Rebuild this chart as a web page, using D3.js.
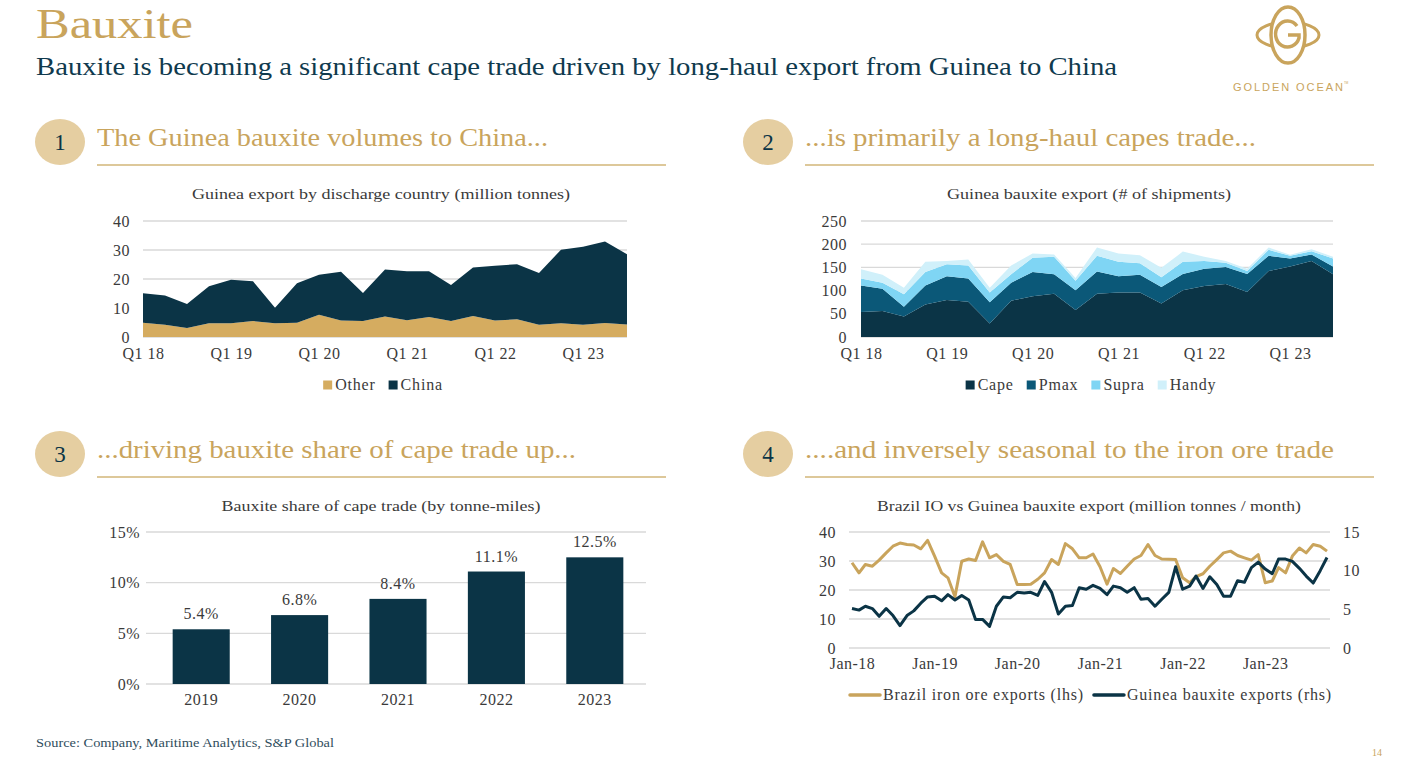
<!DOCTYPE html>
<html>
<head>
<meta charset="utf-8">
<script src="https://cdn.jsdelivr.net/npm/d3@7"></script>
<style>
  body { margin: 0; background: #ffffff; }
  svg text { font-family: "Liberation Serif", "DejaVu Serif", serif; }
</style>
</head>
<body>
<div id="slide"></div>
<script>
// ---- data ----
var quarters = ["Q1 18", "Q2 18", "Q3 18", "Q4 18", "Q1 19", "Q2 19", "Q3 19", "Q4 19",
    "Q1 20", "Q2 20", "Q3 20", "Q4 20", "Q1 21", "Q2 21", "Q3 21", "Q4 21",
    "Q1 22", "Q2 22", "Q3 22", "Q4 22", "Q1 23", "Q2 23", "Q3 23"];
var quarterTicks = ["Q1 18", "Q1 19", "Q1 20", "Q1 21", "Q1 22", "Q1 23"];

// panel 1 : million tonnes
var otherMt = [4.9, 4.2, 3.1, 4.7, 4.7, 5.5, 4.7, 4.9, 7.7, 5.7, 5.5, 7.1,
    5.8, 6.9, 5.5, 7.2, 5.7, 6.1, 4.2, 4.7, 4.2, 4.8, 4.3];
var chinaMt = [10.2, 10.1, 8.3, 12.8, 15.0, 13.7, 5.4, 13.6, 13.8, 16.8, 9.7, 16.2,
    16.9, 15.8, 12.4, 16.8, 18.9, 19.0, 17.9, 25.4, 26.9, 28.1, 24.2];

// panel 2 : number of shipments
var capeShips = [54, 56, 44, 70, 80, 76, 29, 78, 88, 93, 58, 93, 96, 96, 72, 101, 110, 114, 97, 142, 152, 164, 135];
var pmaxShips = [57, 48, 21, 41, 51, 50, 46, 39, 52, 42, 43, 48, 35, 38, 36, 35, 37, 37, 39, 33, 17, 14, 17];
var supraShips = [15, 13, 27, 29, 26, 28, 21, 18, 31, 38, 20, 34, 31, 25, 21, 26, 17, 9, 6, 13, 6, 7, 17];
var handyShips = [20, 17, 14, 22, 7, 13, 10, 19, 9, 5, 6, 18, 18, 17, 20, 22, 9, 4, 5, 5, 2, 4, 4];

// panel 3 : share of cape tonne-miles (%)
var shareYears = ["2019", "2020", "2021", "2022", "2023"];
var shareValues = [5.4, 6.8, 8.4, 11.1, 12.5];

// panel 4 : monthly, Jan-18 .. Oct-23
var brazilIO = [29.4, 25.9, 28.8, 28.2, 30.3, 32.8, 35.1, 36.2, 35.7, 35.5,
    34.2, 37.1, 31.7, 25.9, 24.2, 17.7, 29.9, 30.7, 30.2, 36.6,
    31.1, 32.2, 29.9, 28.8, 21.9, 21.9, 22.0, 23.7, 25.9, 30.5,
    28.8, 36.0, 34.2, 31.1, 31.1, 32.4, 28.0, 22.0, 27.4, 25.7,
    28.2, 30.7, 31.9, 35.7, 31.9, 30.7, 30.6, 30.5, 24.2, 22.5,
    24.6, 25.6, 28.2, 30.5, 32.8, 33.4, 31.9, 31.1, 30.3, 32.2,
    22.5, 23.1, 27.7, 25.9, 31.7, 34.5, 32.8, 35.7, 35.1, 33.4];
var guineaBx = [5.1, 4.9, 5.4, 5.1, 4.1, 5.1, 4.2, 2.9, 4.2, 4.8,
    5.8, 6.6, 6.7, 6.1, 6.9, 6.2, 6.8, 6.2, 3.7, 3.7,
    2.8, 5.4, 6.6, 6.5, 7.2, 7.1, 7.2, 6.8, 8.6, 7.2,
    4.4, 5.4, 5.5, 7.8, 7.6, 8.1, 7.7, 6.9, 8.0, 7.8,
    7.2, 7.8, 6.3, 6.4, 5.4, 6.3, 7.2, 10.5, 7.6, 8.0,
    9.3, 7.7, 9.2, 8.2, 6.7, 6.7, 8.7, 8.5, 10.4, 11.1,
    10.2, 9.6, 11.5, 11.5, 11.2, 10.3, 9.3, 8.4, 10.0, 11.7];
var months = d3.timeMonth.range(new Date(2018, 0, 1), new Date(2023, 10, 1));

// ---- colours ----
var GOLD = "#c9a45c";
var NAVY = "#0b3446";
var TEXT = "#3a3a3a";
var GRID = "#d9d9d9";

var width = 1423;
var height = 764;

var svg = d3.select("#slide")
    .append("svg")
    .attr("width", width)
    .attr("height", height);

// ---- slide heading ----
svg.append("text")
    .text("Bauxite")
    .attr("x", 36)
    .attr("y", 38)
    .attr("textLength", 157)
    .attr("lengthAdjust", "spacingAndGlyphs")
    .style("font-size", "42px")
    .style("fill", GOLD);

svg.append("text")
    .text("Bauxite is becoming a significant cape trade driven by long-haul export from Guinea to China")
    .attr("x", 36)
    .attr("y", 75)
    .attr("textLength", 1081)
    .attr("lengthAdjust", "spacingAndGlyphs")
    .style("font-size", "26px")
    .style("fill", "#0f3a4e");

// logo
var logo = svg.append("g").attr("transform", "translate(1288,35)");
logo.append("ellipse")
    .attr("rx", 31).attr("ry", 13)
    .attr("fill", "none").attr("stroke", GOLD).attr("stroke-width", 3);
logo.append("ellipse")
    .attr("rx", 17).attr("ry", 28)
    .attr("fill", "#fff").attr("stroke", GOLD).attr("stroke-width", 3.5);
logo.append("path")
    .attr("d", "M 9 -9 A 12 13 0 1 0 11 3 L 11 0 L 0 0")
    .attr("fill", "none").attr("stroke", GOLD).attr("stroke-width", 3.5);
svg.append("text")
    .text("GOLDEN OCEAN")
    .attr("x", 1233)
    .attr("y", 91)
    .attr("textLength", 110)
    .attr("lengthAdjust", "spacing")
    .style("font-family", "'Liberation Sans', sans-serif")
    .style("font-size", "11px")
    .style("fill", GOLD);
svg.append("text")
    .text("TM")
    .attr("x", 1344)
    .attr("y", 84)
    .style("font-family", "'Liberation Sans', sans-serif")
    .style("font-size", "3px")
    .style("fill", GOLD);

// ---- panel headings ----
function Header(x, y, num, label, len) {
    svg.append("ellipse")
        .attr("cx", x - 37)
        .attr("cy", y - 4)
        .attr("rx", 25)
        .attr("ry", 23)
        .attr("fill", "#e5cea1");
    svg.append("text")
        .text(num)
        .attr("x", x - 37)
        .attr("y", y + 4)
        .attr("text-anchor", "middle")
        .style("font-size", "23px")
        .style("fill", NAVY);
    svg.append("text")
        .text(label)
        .attr("x", x)
        .attr("y", y)
        .attr("textLength", len)
        .attr("lengthAdjust", "spacingAndGlyphs")
        .style("font-size", "25px")
        .style("fill", GOLD);
    svg.append("line")
        .attr("x1", x).attr("x2", x + 569)
        .attr("y1", y + 19).attr("y2", y + 19)
        .attr("stroke", "#d2b679")
        .attr("stroke-width", 1.5);
}
Header(97, 146, "1", "The Guinea bauxite volumes to China...", 451);
Header(805, 146, "2", "...is primarily a long-haul capes trade...", 451);
Header(97, 458, "3", "...driving bauxite share of cape trade up...", 479);
Header(805, 458, "4", "....and inversely seasonal to the iron ore trade", 529);

function ChartTitle(cx, y, label, len) {
    svg.append("text")
        .text(label)
        .attr("x", cx - len / 2)
        .attr("y", y)
        .attr("textLength", len)
        .attr("lengthAdjust", "spacingAndGlyphs")
        .style("font-size", "15px")
        .style("fill", TEXT);
}

function Legend(cx, cy, items) {
    var g = svg.append("g");
    var pos = 0;
    items.forEach(function (d) {
        var item = g.append("g").attr("transform", "translate(" + pos + ",0)");
        var sw = d.line ? 30 : 9;
        if (d.line) {
            item.append("line")
                .attr("x1", 0).attr("x2", sw)
                .attr("y1", 0).attr("y2", 0)
                .attr("stroke", d.color)
                .attr("stroke-width", 3.5)
                .attr("stroke-linecap", "round");
        } else {
            item.append("rect")
                .attr("x", 0).attr("y", -4.5)
                .attr("width", sw).attr("height", sw)
                .attr("fill", d.color);
        }
        var t = item.append("text")
            .text(d.label)
            .attr("x", sw + 3)
            .attr("y", 5)
            .style("font-size", "16px")
            .style("letter-spacing", "0.8px")
            .style("fill", TEXT);
        pos += sw + 3 + t.node().getComputedTextLength() + (d.line ? 10 : 13);
    });
    var total = pos - (items[items.length - 1].line ? 10 : 13);
    g.attr("transform", "translate(" + (cx - total / 2) + "," + cy + ")");
}

function StyleAxis(g) {
    g.select(".domain").remove();
    g.selectAll("text")
        .style("font-size", "16px")
        .style("letter-spacing", "0.5px")
        .style("fill", TEXT);
}

function Grid(yScale, ticks, x1, x2) {
    svg.append("g")
        .selectAll("line")
        .data(ticks)
        .enter()
        .append("line")
        .attr("x1", x1).attr("x2", x2)
        .attr("y1", function (d) { return yScale(d); })
        .attr("y2", function (d) { return yScale(d); })
        .attr("stroke", GRID)
        .attr("stroke-width", 1.3);
}

// ---- stacked area panels (1 and 2) ----
function StackedArea(opt) {
    var rows = quarters.map(function (q, i) {
        var r = { q: i };
        opt.keys.forEach(function (k, j) { r[k] = opt.series[j][i]; });
        return r;
    });
    var stacked = d3.stack().keys(opt.keys)(rows);

    var xScale = d3.scaleLinear()
        .domain([0, quarters.length - 1])
        .range([opt.left, opt.right]);
    var yScale = d3.scaleLinear()
        .domain([0, opt.max])
        .range([opt.bottom, opt.top]);

    Grid(yScale, d3.range(0, opt.max + 1, opt.step), opt.left, opt.right);

    var area = d3.area()
        .x(function (d) { return xScale(d.data.q); })
        .y0(function (d) { return yScale(d[0]); })
        .y1(function (d) { return yScale(d[1]); });

    svg.append("g")
        .selectAll("path")
        .data(stacked)
        .enter()
        .append("path")
        .attr("d", area)
        .attr("fill", function (d, i) { return opt.colors[i]; });

    // Y 軸
    svg.append("g")
        .attr("transform", "translate(" + opt.left + ",0)")
        .call(d3.axisLeft(yScale)
            .tickValues(d3.range(0, opt.max + 1, opt.step))
            .tickSize(0)
            .tickPadding(opt.yPad))
        .call(StyleAxis);

    // X 軸
    svg.append("g")
        .attr("transform", "translate(0," + opt.bottom + ")")
        .call(d3.axisBottom(xScale)
            .tickValues(quarterTicks.map(function (q) { return quarters.indexOf(q); }))
            .tickFormat(function (i) { return quarters[i]; })
            .tickSize(0)
            .tickPadding(11))
        .call(StyleAxis);
}

ChartTitle(381, 199, "Guinea export by discharge country (million tonnes)", 378);
StackedArea({
    keys: ["Other", "China"],
    series: [otherMt, chinaMt],
    colors: ["#d5ac60", NAVY],
    left: 143, right: 627, top: 221, bottom: 337,
    max: 40, step: 10, yPad: 13
});
Legend(383, 385, [
    { label: "Other", color: "#d5ac60" },
    { label: "China", color: NAVY }
]);

ChartTitle(1089, 199, "Guinea bauxite export (# of shipments)", 284);
StackedArea({
    keys: ["Cape", "Pmax", "Supra", "Handy"],
    series: [capeShips, pmaxShips, supraShips, handyShips],
    colors: [NAVY, "#0b5878", "#7fd5f4", "#d0f0fa"],
    left: 861, right: 1333, top: 221, bottom: 337,
    max: 250, step: 50, yPad: 14
});
Legend(1091, 385, [
    { label: "Cape", color: NAVY },
    { label: "Pmax", color: "#0b5878" },
    { label: "Supra", color: "#7fd5f4" },
    { label: "Handy", color: "#d0f0fa" }
]);

// ---- panel 3 : bars ----
ChartTitle(381, 511, "Bauxite share of cape trade (by tonne-miles)", 319);
(function () {
    var left = 146, right = 646, top = 532, bottom = 684;
    var xScale = d3.scaleBand()
        .domain(shareYears)
        .range([152, 644])
        .paddingInner(0.42)
        .paddingOuter(0.21);
    var yScale = d3.scaleLinear()
        .domain([0, 15])
        .range([bottom, top]);

    Grid(yScale, [0, 5, 10, 15], left, right);

    svg.append("g")
        .selectAll("rect")
        .data(shareValues)
        .enter()
        .append("rect")
        .attr("x", function (d, i) { return xScale(shareYears[i]); })
        .attr("y", function (d) { return yScale(d); })
        .attr("width", xScale.bandwidth())
        .attr("height", function (d) { return bottom - yScale(d); })
        .attr("fill", NAVY);

    svg.append("g")
        .selectAll("text")
        .data(shareValues)
        .enter()
        .append("text")
        .text(function (d) { return d.toFixed(1) + "%"; })
        .attr("x", function (d, i) { return xScale(shareYears[i]) + xScale.bandwidth() / 2; })
        .attr("y", function (d) { return yScale(d) - 10; })
        .attr("text-anchor", "middle")
        .style("font-size", "16px")
        .style("letter-spacing", "0.5px")
        .style("fill", TEXT);

    svg.append("g")
        .attr("transform", "translate(" + left + ",0)")
        .call(d3.axisLeft(yScale)
            .tickValues([0, 5, 10, 15])
            .tickFormat(function (d) { return d + "%"; })
            .tickSize(0)
            .tickPadding(6))
        .call(StyleAxis);

    svg.append("g")
        .attr("transform", "translate(0," + bottom + ")")
        .call(d3.axisBottom(xScale).tickSize(0).tickPadding(10))
        .call(StyleAxis);
})();

// ---- panel 4 : two lines, two axes ----
ChartTitle(1089, 511, "Brazil IO vs Guinea bauxite export (million tonnes / month)", 424);
(function () {
    var left = 849, right = 1330, top = 532, bottom = 648;
    var xScale = d3.scaleTime()
        .domain([months[0], months[months.length - 1]])
        .range([852, 1327]);
    var yLeft = d3.scaleLinear().domain([0, 40]).range([bottom, top]);
    var yRight = d3.scaleLinear().domain([0, 15]).range([bottom, top]);

    Grid(yLeft, [0, 10, 20, 30, 40], left, right);

    var lineL = d3.line()
        .x(function (d, i) { return xScale(months[i]); })
        .y(function (d) { return yLeft(d); });
    var lineR = d3.line()
        .x(function (d, i) { return xScale(months[i]); })
        .y(function (d) { return yRight(d); });

    svg.append("path")
        .datum(brazilIO)
        .attr("d", lineL)
        .attr("fill", "none")
        .attr("stroke", GOLD)
        .attr("stroke-width", 3)
        .attr("stroke-linejoin", "round");
    svg.append("path")
        .datum(guineaBx)
        .attr("d", lineR)
        .attr("fill", "none")
        .attr("stroke", NAVY)
        .attr("stroke-width", 3)
        .attr("stroke-linejoin", "round");

    svg.append("g")
        .attr("transform", "translate(" + left + ",0)")
        .call(d3.axisLeft(yLeft).tickValues([0, 10, 20, 30, 40]).tickSize(0).tickPadding(13))
        .call(StyleAxis);
    svg.append("g")
        .attr("transform", "translate(" + right + ",0)")
        .call(d3.axisRight(yRight).tickValues([0, 5, 10, 15]).tickSize(0).tickPadding(13))
        .call(StyleAxis);
    svg.append("g")
        .attr("transform", "translate(0," + bottom + ")")
        .call(d3.axisBottom(xScale)
            .tickValues(d3.timeYear.range(new Date(2018, 0, 1), new Date(2024, 0, 1)))
            .tickFormat(d3.timeFormat("%b-%y"))
            .tickSize(0)
            .tickPadding(10))
        .call(StyleAxis);
})();
Legend(1091, 695, [
    { label: "Brazil iron ore exports (lhs)", color: GOLD, line: true },
    { label: "Guinea bauxite exports (rhs)", color: NAVY, line: true }
]);

// ---- footer ----
svg.append("text")
    .text("Source: Company, Maritime Analytics, S&P Global")
    .attr("x", 36)
    .attr("y", 747)
    .attr("textLength", 298)
    .attr("lengthAdjust", "spacingAndGlyphs")
    .style("font-size", "13px")
    .style("fill", "#2f4d5c");
svg.append("text")
    .text("14")
    .attr("x", 1372)
    .attr("y", 756)
    .style("font-size", "10px")
    .style("fill", GOLD);
</script>
</body>
</html>
